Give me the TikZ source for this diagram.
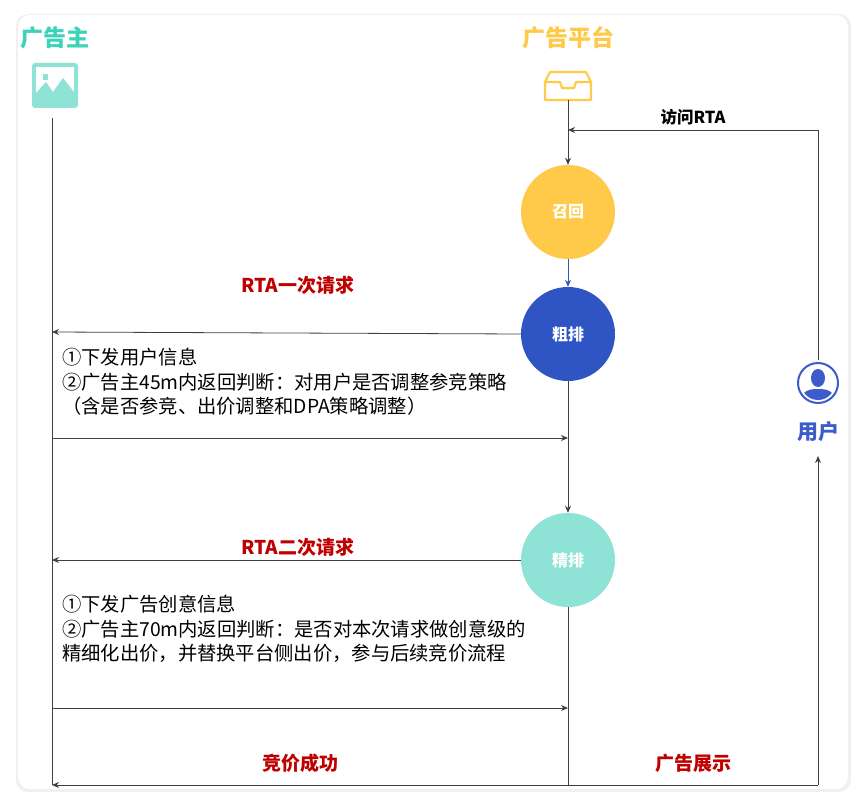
\documentclass[tikz,border=0pt]{standalone}
\usepackage{fontspec}
\setmainfont{Noto Sans CJK SC}
\usetikzlibrary{arrows.meta}
\definecolor{adv}{HTML}{3DD3B8}
\definecolor{plat}{HTML}{FFC94A}
\definecolor{blueC}{HTML}{2F55C4}
\definecolor{tealC}{HTML}{8EE3D6}
\definecolor{userC}{HTML}{3E5BCB}
\definecolor{redT}{HTML}{C00000}
\begin{document}
\begin{tikzpicture}[x=1pt,y=-1pt,
  line/.style={draw=black!75,line width=0.8pt},
  arr/.style={line,-{Stealth[length=7pt,width=6pt]}},
  stage/.style={circle,minimum size=94pt,inner sep=0pt,text=white,font=\fontsize{16}{18}\selectfont\bfseries},
  hdr/.style={font=\fontsize{23}{26}\selectfont\bfseries},
  red/.style={text=redT,font=\fontsize{19}{22}\selectfont\bfseries},
  body/.style={align=left,anchor=north west,font=\fontsize{19.3}{24.5}\selectfont,inner sep=0pt}]
\useasboundingbox (0,0) rectangle (864,805);
\fill[black!6,rounded corners=12pt] (16,14) rectangle (851,792);
\fill[white,rounded corners=12pt] (18,15) rectangle (848,789);
% headers
\node[text=adv,hdr] (hA) at (55,38) {广告主};
\node[text=plat,hdr] (hP) at (568,38) {广告平台};
% advertiser icon
\fill[tealC,rounded corners=3pt] (32,63) rectangle (78,108);
\fill[white] (36,67) rectangle (74,102);
\fill[tealC] (36,102) -- (36,93) -- (46,82) -- (53,92) -- (63,78) -- (74,92) -- (74,102) -- cycle;
\fill[tealC] (43,74) rectangle (48,80);
% platform icon
\draw[plat,line width=2.2pt,line join=round] (545,82) -- (550,72) -- (586,72) -- (591,82) -- (591,100) -- (545,100) -- cycle;
\draw[plat,line width=2.2pt,line join=round] (545,82) -- (560,82) -- (562,88) -- (574,88) -- (576,82) -- (591,82);
% user icon
\node[circle,draw=userC,line width=2pt,minimum size=40pt,inner sep=0pt] (ui) at (818,383) {};
\begin{scope}
\clip (818,383) circle (17pt);
\fill[userC] (818,378) ellipse (7pt and 9pt);
\fill[userC] (800,402) .. controls (802,390) and (810,389) .. (818,389) .. controls (826,389) and (834,390) .. (836,402) -- cycle;
\end{scope}
\node[text=userC,font=\fontsize{21}{24}\selectfont\bfseries] (hU) at (818,432) {用户};
% stages
\node[stage,fill=plat] (c1) at (568,212) {召回};
\node[stage,fill=blueC] (c2) at (568,334) {粗排};
\node[stage,fill=tealC] (c3) at (568,560) {精排};
% coordinates
\coordinate (aTop) at (52,118);
\coordinate (aBot) at (52,785);
\coordinate (pTop) at (568,100);
\coordinate (pIn) at (568,130);
\coordinate (uTop) at (818,130);
\coordinate (uA) at (818,360);
\coordinate (uB) at (818,456);
\coordinate (uBot) at (818,785);
\coordinate (pBot) at (568,785);
\coordinate (a1) at (52,332);
\coordinate (a1r) at (52,438);
\coordinate (p1r) at (568,438);
\coordinate (a2) at (52,560);
\coordinate (a2r) at (52,708);
\coordinate (p2r) at (568,708);
\draw[line] (aTop) -- (aBot);
\draw[arr] (pTop) -- (c1.north);
\draw[arr] (uA) -- (uTop) -- (pIn);
\node[font=\fontsize{16.5}{18}\selectfont\bfseries] (lv) at (693,117) {访问RTA};
\draw[blueC,line width=0.8pt,-{Stealth[length=7pt,width=6pt]}] (c1.south) -- (c2.north);
\draw[arr] (c2.west) -- (a1);
\node[red] (l1) at (298,285) {RTA一次请求};
\node[body] (t1) at (62,348) {①下发用户信息\\②广告主45m内返回判断：对用户是否调整参竞策略\\（含是否参竞、出价调整和DPA策略调整）};
\draw[arr] (a1r) -- (p1r);
\draw[arr] (c2.south) -- (c3.north);
\draw[arr] (c3.west) -- (a2);
\node[red] (l2) at (298,547) {RTA二次请求};
\node[body] (t2) at (62,595) {①下发广告创意信息\\②广告主70m内返回判断：是否对本次请求做创意级的\\精细化出价，并替换平台侧出价，参与后续竞价流程};
\draw[arr] (a2r) -- (p2r);
\draw[line] (c3.south) -- (pBot);
\draw[arr] (uBot) -- (aBot);
\draw[arr] (uBot) -- (uB);
\node[red] (l3) at (300,763) {竞价成功};
\node[red] (l4) at (693,763) {广告展示};
\end{tikzpicture}
\end{document}
